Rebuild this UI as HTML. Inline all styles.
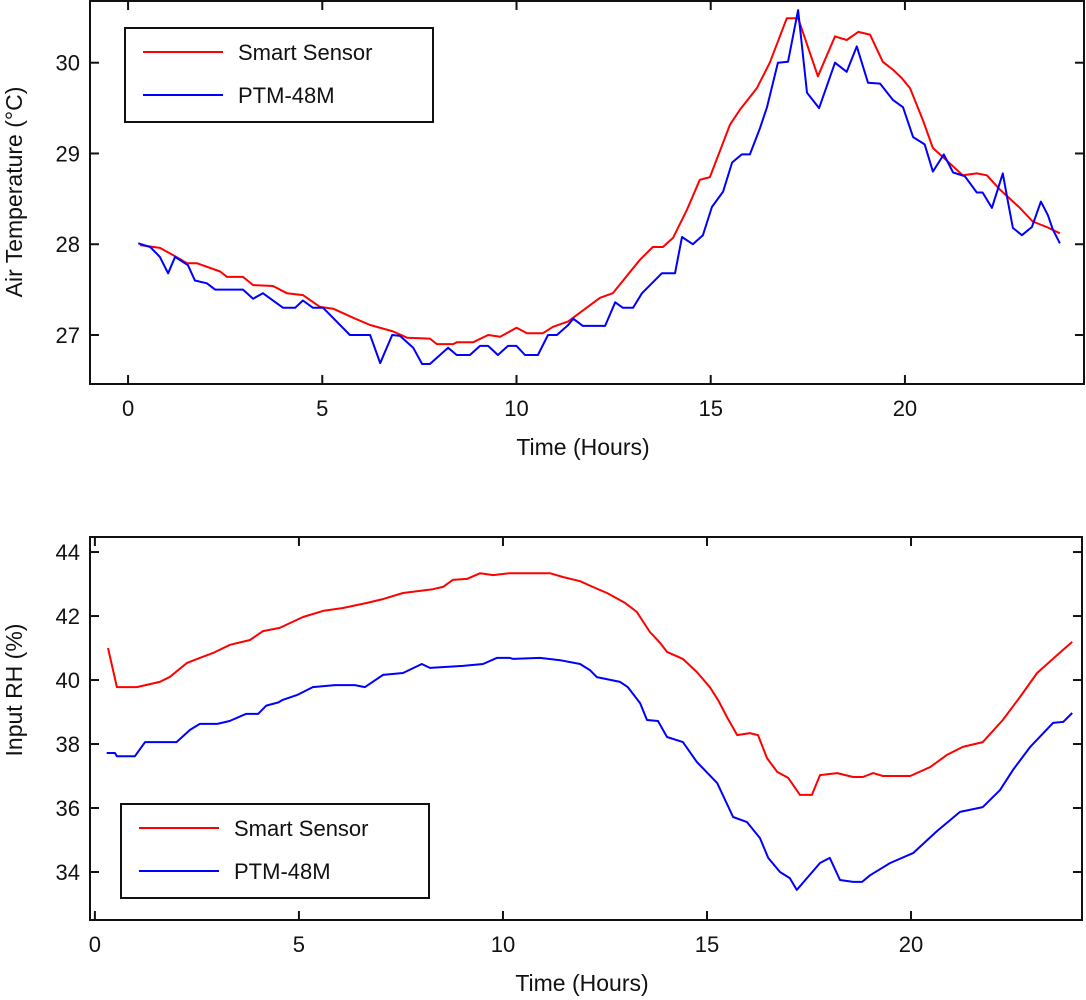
<!DOCTYPE html>
<html><head><meta charset="utf-8"><style>
html,body{margin:0;padding:0;background:#fff;}
svg{display:block;font-family:"Liberation Sans",Arial,sans-serif;}
</style></head><body>
<svg id="c" width="1086" height="1000" viewBox="0 0 1086 1000"></svg>
<script>
const tHours1=[0.31,0.82,1.16,1.52,1.78,2.37,2.55,2.96,3.22,3.73,4.09,4.5,4.94,5.28,5.79,6.23,6.82,7.18,7.77,7.95,8.37,8.46,8.88,9.27,9.58,10.0,10.27,10.68,10.94,11.33,11.46,12.15,12.48,13.18,13.51,13.77,14.03,14.39,14.72,14.98,15.5,15.75,16.19,16.52,16.96,17.25,17.76,18.2,18.5,18.8,19.1,19.43,19.7,19.92,20.13,20.46,20.72,20.98,21.49,21.85,22.11,22.45,22.96,23.29,23.65,23.99];
const tempSmart=[27.99,27.96,27.88,27.79,27.79,27.70,27.64,27.64,27.55,27.54,27.46,27.44,27.31,27.29,27.19,27.11,27.04,26.97,26.96,26.90,26.90,26.92,26.92,27.0,26.98,27.08,27.02,27.02,27.09,27.15,27.19,27.41,27.46,27.83,27.97,27.97,28.07,28.38,28.71,28.74,29.32,29.48,29.72,30.0,30.49,30.49,29.85,30.29,30.25,30.34,30.31,30.01,29.92,29.83,29.72,29.37,29.06,28.96,28.76,28.78,28.76,28.60,28.40,28.25,28.19,28.12];
const tHours2=[0.26,0.57,0.82,1.03,1.21,1.54,1.72,2.03,2.24,2.96,3.22,3.47,3.99,4.3,4.5,4.76,5.02,5.71,6.23,6.49,6.8,7.0,7.34,7.57,7.77,8.24,8.46,8.8,9.06,9.27,9.52,9.78,10.0,10.22,10.55,10.81,11.04,11.33,11.46,11.71,12.28,12.54,12.74,13.0,13.23,13.74,14.08,14.26,14.54,14.8,15.03,15.32,15.55,15.8,16.01,16.27,16.45,16.73,16.99,17.25,17.48,17.79,18.2,18.5,18.76,19.05,19.36,19.69,19.95,20.21,20.51,20.72,21.0,21.24,21.54,21.85,22.0,22.24,22.52,22.65,22.78,23.01,23.27,23.5,23.68,23.81,23.99];
const tempPTM=[28.01,27.97,27.86,27.68,27.86,27.77,27.60,27.57,27.50,27.50,27.40,27.46,27.30,27.30,27.38,27.30,27.30,27.0,27.0,26.69,27.0,26.99,26.86,26.68,26.68,26.86,26.78,26.78,26.88,26.88,26.78,26.88,26.88,26.78,26.78,27.0,27.0,27.11,27.18,27.10,27.10,27.36,27.30,27.30,27.46,27.68,27.68,28.08,28.0,28.10,28.41,28.58,28.90,28.99,28.99,29.28,29.51,30.0,30.01,30.58,29.67,29.50,30.0,29.9,30.18,29.78,29.77,29.59,29.51,29.18,29.10,28.80,28.99,28.79,28.75,28.57,28.57,28.40,28.78,28.47,28.18,28.10,28.19,28.47,28.32,28.16,28.01];
const rhHours1=[0.32,0.54,1.03,1.59,1.84,2.25,2.57,2.89,3.31,3.8,4.12,4.53,5.1,5.59,6.08,6.67,7.06,7.55,8.28,8.53,8.77,9.12,9.44,9.76,10.17,11.15,11.47,11.89,12.2,12.55,12.99,13.28,13.6,13.85,14.02,14.41,14.75,15.07,15.27,15.49,15.74,16.05,16.25,16.47,16.72,16.99,17.28,17.57,17.77,18.19,18.58,18.82,19.07,19.31,19.98,20.47,20.88,21.27,21.76,22.25,22.67,23.09,23.58,23.95];
const rhSmart=[41.0,39.78,39.78,39.94,40.1,40.53,40.69,40.84,41.1,41.25,41.53,41.63,41.97,42.16,42.25,42.41,42.53,42.72,42.84,42.91,43.13,43.16,43.34,43.28,43.34,43.34,43.22,43.09,42.91,42.72,42.41,42.13,41.5,41.16,40.88,40.66,40.25,39.78,39.38,38.84,38.28,38.34,38.28,37.56,37.13,36.94,36.41,36.41,37.03,37.09,36.97,36.97,37.09,37.0,37.0,37.28,37.66,37.91,38.06,38.75,39.47,40.22,40.78,41.19];
const rhHours2=[0.29,0.49,0.54,0.98,1.23,2.0,2.33,2.57,3.0,3.3,3.7,4.0,4.2,4.5,4.6,4.95,5.34,5.88,6.37,6.62,7.06,7.55,8.01,8.21,9.02,9.51,9.85,10.17,10.25,10.91,11.4,11.89,12.13,12.3,12.87,13.06,13.36,13.53,13.8,14.02,14.41,14.75,15.25,15.64,15.98,16.3,16.5,16.79,17.03,17.2,17.77,18.01,18.26,18.58,18.8,19.0,19.49,20.05,20.64,21.2,21.76,22.18,22.5,22.92,23.48,23.73,23.95];
const rhPTM=[37.72,37.72,37.62,37.62,38.06,38.06,38.44,38.63,38.63,38.72,38.94,38.94,39.2,39.3,39.38,39.53,39.78,39.84,39.84,39.78,40.16,40.22,40.5,40.38,40.44,40.5,40.69,40.69,40.66,40.69,40.62,40.5,40.31,40.09,39.94,39.78,39.28,38.75,38.72,38.22,38.06,37.44,36.78,35.72,35.56,35.06,34.44,34.0,33.81,33.44,34.28,34.44,33.75,33.69,33.69,33.9,34.28,34.59,35.28,35.88,36.03,36.56,37.19,37.91,38.66,38.69,38.97];
const xTicks=[0,5,10,15,20];
const yTicksTop=[27,28,29,30];
const yTicksBot=[34,36,38,40,42,44];
const seriesNames=["Smart Sensor","PTM-48M"];

const NS="http://www.w3.org/2000/svg";
const svg=document.getElementById('c');
function mk(tag,attrs,parent){const e=document.createElementNS(NS,tag);for(const k in attrs)e.setAttribute(k,attrs[k]);(parent||svg).appendChild(e);return e;}

function panel(cfg){
  const g=mk('g',{});
  
  
  const L=cfg.L,R=cfg.R,T=cfg.T,B=cfg.B;
  const sx=v=>L+(v-cfg.x0)/(cfg.x1-cfg.x0)*(R-L);
  const sy=v=>B-(v-cfg.y0)/(cfg.y1-cfg.y0)*(B-T);
  cfg.series.forEach(s=>{
    const d=s.x.map((h,i)=>(i?'L':'M')+sx(h).toFixed(1)+' '+sy(s.y[i]).toFixed(1)).join(' ');
    const p=mk('path',{d:d,fill:'none',stroke:s.color,'stroke-width':2,'stroke-linejoin':'round'},g);
    
    
  });
  const fr=mk('rect',{x:L,y:T,width:R-L,height:B-T,fill:'none',stroke:'#111','stroke-width':2},g);
  
  
  xTicks.forEach(t=>{
    const x=sx(t);
    mk('line',{x1:x,y1:B,x2:x,y2:B-9,stroke:'#111','stroke-width':2},g);
    mk('line',{x1:x,y1:T,x2:x,y2:T+9,stroke:'#111','stroke-width':2},g);
    const tx=mk('text',{x:x,y:B+32,'text-anchor':'middle','font-size':22,fill:'#111'},g);
    tx.textContent=t;
    
    
  });
  cfg.yt.forEach(t=>{
    const y=sy(t);
    mk('line',{x1:L,y1:y,x2:L+9,y2:y,stroke:'#111','stroke-width':2},g);
    mk('line',{x1:R,y1:y,x2:R-9,y2:y,stroke:'#111','stroke-width':2},g);
    const tx=mk('text',{x:L-10,y:y+8,'text-anchor':'end','font-size':22,fill:'#111'},g);
    tx.textContent=t;
    
    
  });
  const xt=mk('text',{x:(L+R)/2-4,y:B+71,'text-anchor':'middle','font-size':23,fill:'#111'},g);
  xt.textContent='Time (Hours)';
  
  
  const yt=mk('text',{x:0,y:0,'text-anchor':'middle','font-size':23,fill:'#111',transform:'translate('+cfg.ytx+','+cfg.yty+') rotate(-90)'},g);
  yt.textContent=cfg.ytitle;
  
  
  const lg=mk('g',{},g);
  
  
  const lx=cfg.lx,ly=cfg.ly;
  mk('rect',{x:lx,y:ly,width:308,height:94,fill:'#fff',stroke:'#111','stroke-width':2},lg);
  cfg.series.forEach((s,i)=>{
    const yy=ly+24+i*43;
    const e=mk('g',{},lg);
    
    
    mk('line',{x1:lx+18,y1:yy,x2:lx+98,y2:yy,stroke:s.color,'stroke-width':2},e);
    const t=mk('text',{x:lx+113,y:yy+8,'font-size':22,fill:'#111'},e);
    t.textContent=seriesNames[i];
  });
}

panel({name:'temperature-panel',L:90,R:1084,T:1,B:384,x0:-0.98,x1:24.61,y0:26.46,y1:30.68,yt:yTicksTop,
  ytitle:'Air Temperature (°C)',ytx:22,yty:192,lx:125,ly:28,
  series:[{x:tHours1,y:tempSmart,color:'#ff0000',dname:'smart-sensor-temp-line'},{x:tHours2,y:tempPTM,color:'#0000ff',dname:'ptm48m-temp-line'}]});
panel({name:'humidity-panel',L:90,R:1082,T:537,B:920,x0:-0.12,x1:24.19,y0:32.5,y1:44.47,yt:yTicksBot,
  ytitle:'Input RH (%)',ytx:22,yty:690,lx:121,ly:804,
  series:[{x:rhHours1,y:rhSmart,color:'#ff0000',dname:'smart-sensor-rh-line'},{x:rhHours2,y:rhPTM,color:'#0000ff',dname:'ptm48m-rh-line'}]});
</script>
</body></html>
